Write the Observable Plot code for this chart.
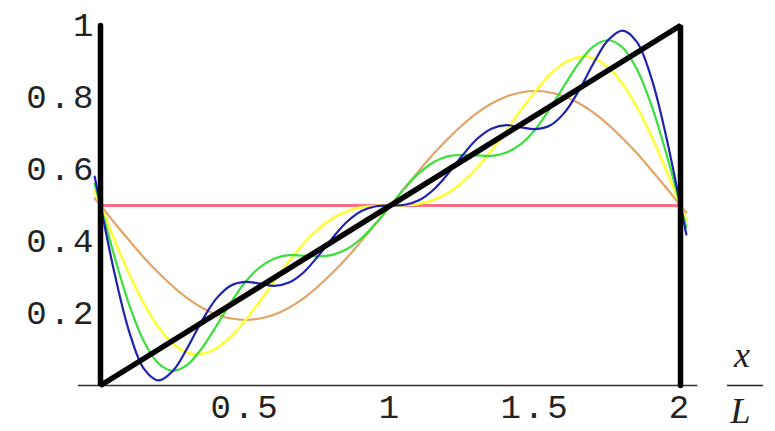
<!DOCTYPE html>
<html>
<head>
<meta charset="utf-8">
<script src="https://cdn.jsdelivr.net/npm/d3@7"></script>
<script src="https://cdn.jsdelivr.net/npm/@observablehq/plot@0.6"></script>
<style>
  html, body { margin: 0; padding: 0; background: #fff; }
  #chart svg { display: block; }
</style>
</head>
<body>
<div id="chart"></div>
<script>
// x / L sample positions
const xs = [-0.02, 0, 0.05, 0.1, 0.15, 0.2, 0.25, 0.3, 0.35, 0.4, 0.45, 0.5, 0.55, 0.6, 0.65, 0.7, 0.75, 0.8, 0.85, 0.9, 0.95, 1,
  1.05, 1.1, 1.15, 1.2, 1.25, 1.3, 1.35, 1.4, 1.45, 1.5, 1.55, 1.6, 1.65, 1.7, 1.75, 1.8, 1.85, 1.9, 1.95, 2, 2.02];

// partial sums (orange: 1 term, yellow: 2, green: 3, blue: 4)
const orangeY = [0.520, 0.500, 0.450, 0.402, 0.355, 0.313, 0.275, 0.242, 0.216, 0.197, 0.186, 0.182, 0.186, 0.197, 0.216, 0.242, 0.275, 0.313, 0.355, 0.402, 0.450, 0.500,
  0.550, 0.598, 0.645, 0.687, 0.725, 0.758, 0.784, 0.803, 0.814, 0.818, 0.814, 0.803, 0.784, 0.758, 0.725, 0.687, 0.645, 0.598, 0.550, 0.500, 0.480];
const yellowY = [0.540, 0.500, 0.401, 0.308, 0.227, 0.162, 0.116, 0.091, 0.088, 0.104, 0.136, 0.182, 0.235, 0.291, 0.345, 0.394, 0.434, 0.464, 0.484, 0.495, 0.499, 0.500,
  0.501, 0.505, 0.516, 0.536, 0.566, 0.606, 0.655, 0.709, 0.765, 0.818, 0.864, 0.896, 0.912, 0.909, 0.884, 0.838, 0.773, 0.692, 0.599, 0.500, 0.460];
const greenY = [0.560, 0.500, 0.353, 0.222, 0.122, 0.061, 0.041, 0.058, 0.104, 0.166, 0.231, 0.288, 0.329, 0.353, 0.362, 0.361, 0.359, 0.363, 0.379, 0.409, 0.451, 0.500,
  0.549, 0.591, 0.621, 0.637, 0.641, 0.639, 0.638, 0.647, 0.671, 0.712, 0.769, 0.834, 0.896, 0.942, 0.959, 0.939, 0.878, 0.778, 0.647, 0.500, 0.440];
const blueY = [0.580, 0.500, 0.306, 0.147, 0.046, 0.014, 0.041, 0.105, 0.180, 0.242, 0.278, 0.288, 0.283, 0.277, 0.286, 0.314, 0.359, 0.410, 0.455, 0.485, 0.498, 0.500,
  0.502, 0.515, 0.545, 0.590, 0.641, 0.686, 0.714, 0.723, 0.717, 0.712, 0.722, 0.758, 0.820, 0.895, 0.959, 0.986, 0.954, 0.853, 0.694, 0.500, 0.420];

// zeroth term (constant) and the exact sawtooth
const pinkX = [0, 2];
const pinkY = [0.5, 0.5];
const sawX = [0, 0, 2, 2];
const sawY = [1, 0, 1, 0];

// tick labels
const xTicks = [0.5, 1, 1.5, 2];
const xTickLabels = ["0.5", "1", "1.5", "2"];
const yTicks = [0.2, 0.4, 0.6, 0.8, 1];
const yTickLabels = ["0.2", "0.4", "0.6", "0.8", "1"];

const series = [
  {name: "orange", ys: orangeY, color: "#e2a464", w: 2.2},
  {name: "yellow", ys: yellowY, color: "#ffff38", w: 2.6},
  {name: "green", ys: greenY, color: "#3ae03a", w: 2.2},
  {name: "blue", ys: blueY, color: "#1e22b0", w: 2.2}
];
const pts = arr => arr.map((y, i) => ({x: xs[i], y}));

const monoFont = "'Liberation Mono', 'DejaVu Sans Mono', monospace";
const serifFont = "'Liberation Serif', 'DejaVu Serif', serif";

const plot = Plot.plot({
  width: 775,
  height: 431,
  marginLeft: 100,
  marginRight: 95,
  marginTop: 25,
  marginBottom: 46,
  x: {domain: [0, 2], axis: null},
  y: {domain: [0, 1], axis: null},
  style: {background: "#fff", overflow: "visible"},
  marks: [
    // horizontal axis line
    Plot.ruleY([0], {x1: -0.076, x2: 2.06, stroke: "#333", strokeWidth: 1.3}),
    // constant term
    Plot.line(pinkX.map((x, i) => ({x, y: pinkY[i]})), {x: "x", y: "y", stroke: "#ff6f86", strokeWidth: 3, clip: false}),
    // partial sums
    ...series.map(s => Plot.line(pts(s.ys), {x: "x", y: "y", stroke: s.color, strokeWidth: s.w, curve: "catmull-rom", clip: false})),
    // sawtooth
    Plot.line(sawX.map((x, i) => ({x, y: sawY[i]})), {x: "x", y: "y", stroke: "#000", strokeWidth: 5.5, strokeLinejoin: "miter"}),
    // y tick labels
    Plot.text(yTicks, {x: 0, y: d => d, text: (d, i) => yTickLabels[i], textAnchor: "end", dx: -4,
      fontFamily: monoFont, fontSize: 34, fill: "#222"}),
    // x tick labels
    Plot.text(xTicks, {x: d => d, y: 0, text: (d, i) => xTickLabels[i], dy: 22,
      fontFamily: monoFont, fontSize: 34, fill: "#222"}),
    // x / L axis label
    Plot.text(["x"], {x: 2.217, y: 0, dy: -30, text: d => d, fontFamily: serifFont, fontStyle: "italic", fontSize: 36, fill: "#222"}),
    Plot.ruleY([0], {x1: 2.162, x2: 2.286, stroke: "#222", strokeWidth: 1.6}),
    Plot.text(["L"], {x: 2.212, y: 0, dy: 26, text: d => d, fontFamily: serifFont, fontStyle: "italic", fontSize: 36, fill: "#222"})
  ]
});
plot.style.letterSpacing = "3px";
document.getElementById("chart").appendChild(plot);
</script>
</body>
</html>
